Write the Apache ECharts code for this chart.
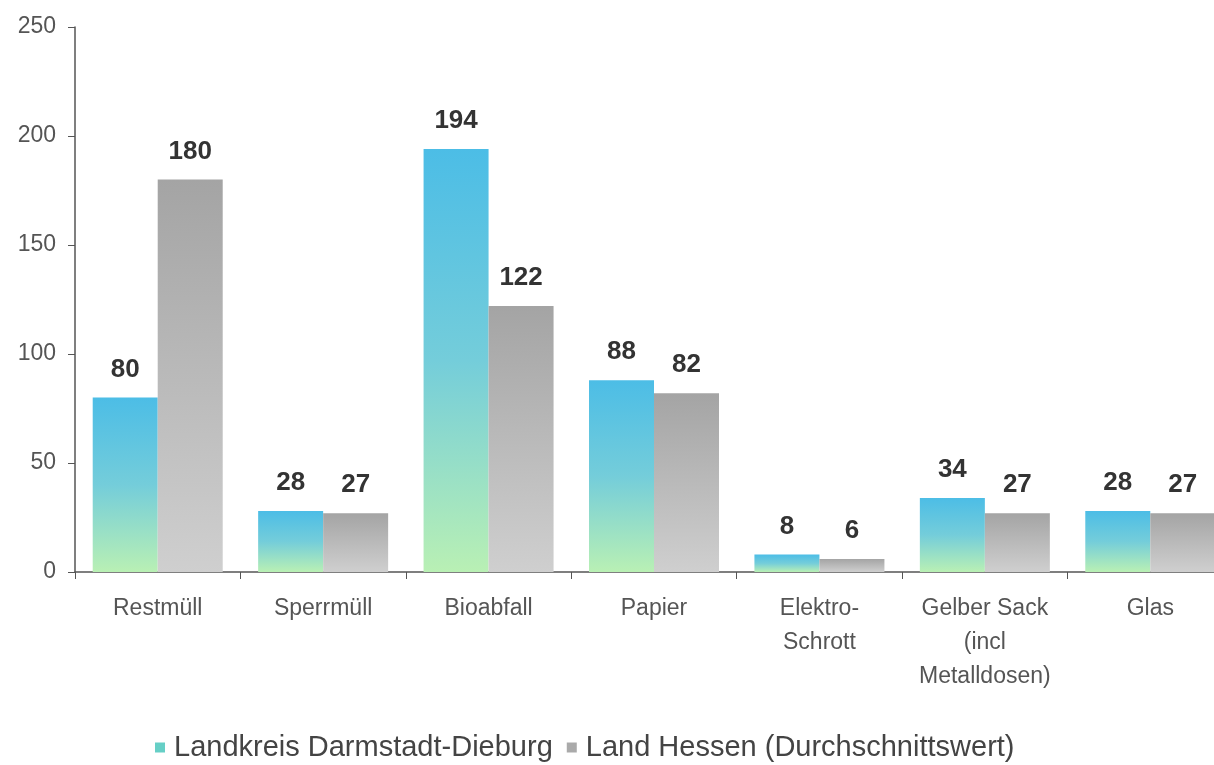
<!DOCTYPE html>
<html><head><meta charset="utf-8">
<script src="https://cdn.jsdelivr.net/npm/echarts@6/dist/echarts.min.js"></script>
<style>html,body{margin:0;padding:0;background:#fff;overflow:hidden}#c{width:1214px;height:765px}</style>
</head><body><div id="c"></div>
<script>
const categories = ['Restmüll','Sperrmüll','Bioabfall','Papier','Elektro-\nSchrott','Gelber Sack\n(incl\nMetalldosen)','Glas'];
const seriesNames = ['Landkreis Darmstadt-Dieburg','Land Hessen (Durchschnittswert)'];
const landkreis = [80,28,194,88,8,34,28];
const hessen = [180,27,122,82,6,27,27];
const yTicks = {min:0,max:250,interval:50};

const chart = echarts.init(document.getElementById('c'), null, {renderer:'canvas'});
const blueGrad = new echarts.graphic.LinearGradient(0,0,0,1,[{offset:0,color:'#4cbde6'},{offset:0.5,color:'#74cdda'},{offset:1,color:'#b9f0b4'}]);
const greyGrad = new echarts.graphic.LinearGradient(0,0,0,1,[{offset:0,color:'#a4a4a4'},{offset:1,color:'#cfcfcf'}]);
const FONT = 'Liberation Sans, Arial, sans-serif';
const labelStyle = {show:true,position:'top',distance:15,fontFamily:FONT,fontWeight:'bold',fontSize:26,color:'#333'};
chart.setOption({
  animation:false,
  grid:{left:75,width:1158,top:27,height:545,containLabel:false,outerBoundsMode:'none'},
  legend:{top:728,left:150,itemWidth:10,itemHeight:10,itemGap:14,icon:'rect',
    textStyle:{fontFamily:FONT,fontSize:29,color:'#444',padding:[0,0,0,4]},
    data:[{name:seriesNames[0],itemStyle:{color:'#66cfc6'}},{name:seriesNames[1],itemStyle:{color:'#aaaaaa'}}]},
  xAxis:{type:'category',data:categories,
    axisLine:{lineStyle:{color:'#555',width:1.5}},
    axisTick:{show:true,alignWithLabel:false,length:7,lineStyle:{color:'#555'}},
    axisLabel:{interval:0,margin:20,lineHeight:34,fontFamily:FONT,fontSize:23,color:'#555'}},
  yAxis:{type:'value',min:yTicks.min,max:yTicks.max,interval:yTicks.interval,
    splitLine:{show:false},
    axisLine:{show:true,lineStyle:{color:'#555',width:1.5}},
    axisTick:{show:true,length:7,lineStyle:{color:'#555'}},
    axisLabel:{margin:19,fontFamily:FONT,fontSize:23,color:'#555'}},
  series:[
    {name:seriesNames[0],type:'bar',data:landkreis,barGap:'0%',barWidth:65,itemStyle:{color:blueGrad},label:labelStyle},
    {name:seriesNames[1],type:'bar',data:hessen,barGap:'0%',barWidth:65,itemStyle:{color:greyGrad},label:labelStyle}
  ]
});
</script></body></html>
